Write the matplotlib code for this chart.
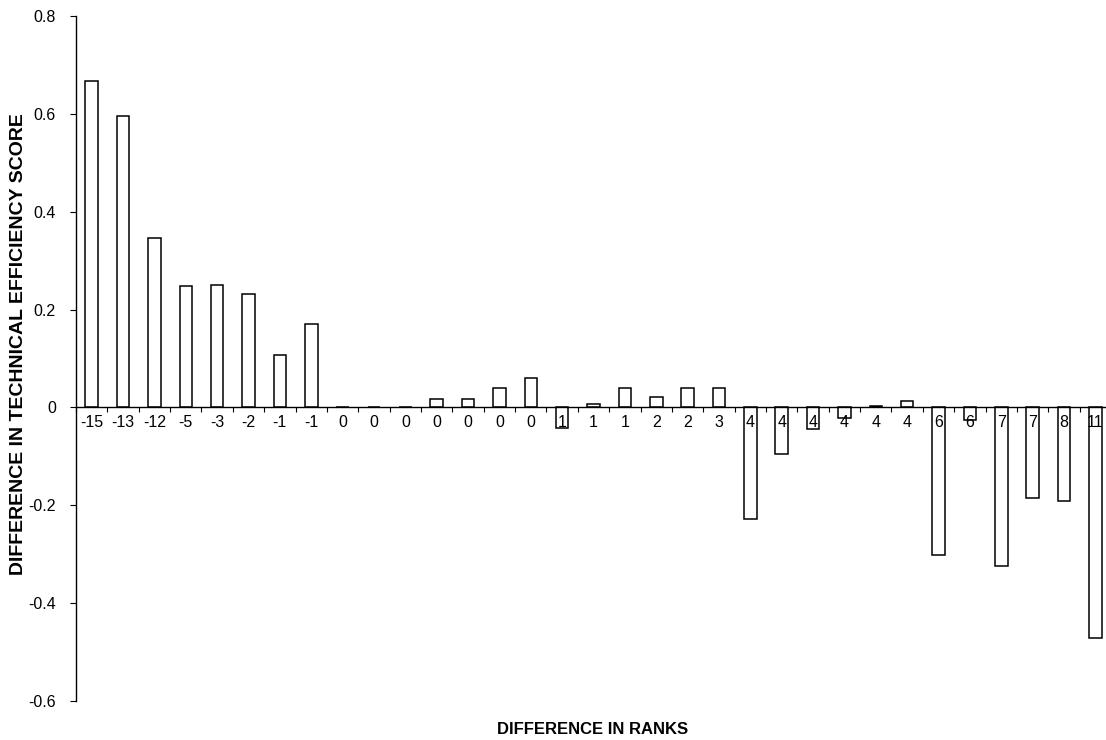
import numpy as np
import matplotlib
matplotlib.use("Agg")
import matplotlib.pyplot as plt

rank_labels = ['-15', '-13', '-12', '-5', '-3', '-2', '-1', '-1', '0', '0', '0',
               '0', '0', '0', '0', '1', '1', '1', '2', '2', '3', '4', '4', '4',
               '4', '4', '4', '6', '6', '7', '7', '8', '11']
eff_diff = [0.667, 0.596, 0.347, 0.248, 0.251, 0.231, 0.107, 0.170, 0.0, 0.0, 0.0,
            0.017, 0.017, 0.040, 0.061, -0.042, 0.007, 0.040, 0.021, 0.039, 0.040,
            -0.229, -0.096, -0.045, -0.021, 0.003, 0.013, -0.302, -0.026, -0.324,
            -0.186, -0.191, -0.472]
y_ticks = [0.8, 0.6, 0.4, 0.2, 0.0, -0.2, -0.4, -0.6]

plt.rcParams['font.family'] = ['Liberation Sans', 'DejaVu Sans']

fig = plt.figure(figsize=(11.06, 7.40), dpi=100)
W, H = 1106, 740
ax = fig.add_axes([76 / W, 39 / H, 1035 / W, 685 / H])

x = np.arange(len(eff_diff))
ax.bar(x, eff_diff, width=0.4, color='white', edgecolor='black', linewidth=1.1, zorder=1)

ax.set_xlim(-0.5, len(eff_diff) - 0.5)
ax.set_ylim(-0.6, 0.8)

# spines
ax.spines['top'].set_visible(False)
ax.spines['right'].set_visible(False)
ax.spines['bottom'].set_position(('data', 0))
ax.spines['bottom'].set_linewidth(1.0)
ax.spines['left'].set_linewidth(1.0)

# x ticks: marks at boundaries, labels at centres
ax.set_xticks(np.arange(len(eff_diff) + 1) - 0.5)
ax.set_xticklabels([])
ax.tick_params(axis='x', which='major', direction='out', length=3.5, width=0.8)
ax.set_xticks(x, minor=True)
ax.set_xticklabels(rank_labels, minor=True)
ax.tick_params(axis='x', which='minor', length=0, pad=5.5, labelsize=11.5)

ax.set_yticks(y_ticks)
ax.set_yticklabels([f"{v:g}" for v in y_ticks])
ax.tick_params(axis='y', direction='out', length=4.5, width=0.8, pad=10, labelsize=11.5)

fig.text(19 / W, 1 - 344 / H, 'DIFFERENCE IN TECHNICAL EFFICIENCY SCORE', rotation=90,
         ha='center', va='center', fontsize=14, fontweight='bold')
fig.text(593 / W, 1 - 729 / H, 'DIFFERENCE IN RANKS', ha='center', va='center',
         fontsize=12, fontweight='bold')

fig.savefig('out.png', dpi=100)
